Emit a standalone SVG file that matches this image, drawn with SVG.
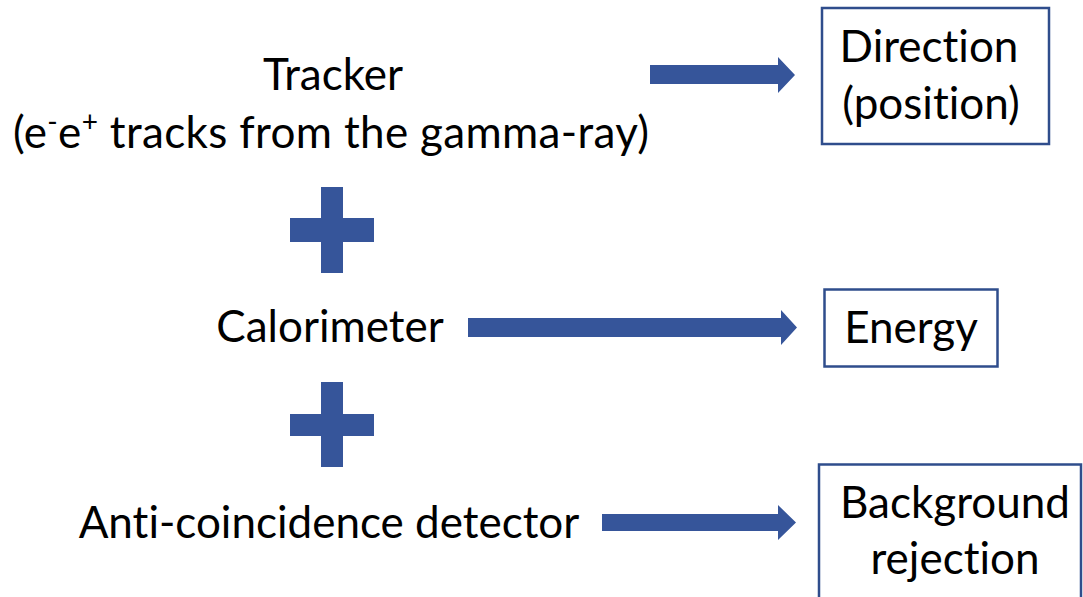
<svg xmlns="http://www.w3.org/2000/svg" width="1083" height="597" viewBox="0 0 1083 597">
  <style>
    .lbl { font-family: Lato, "Open Sans", "Liberation Sans", sans-serif; font-size: 44px; fill: #000; text-anchor: middle; font-variant-ligatures: none; }
    .box { fill: #fff; stroke: #2F4D8C; stroke-width: 2.5; }
    .blue { fill: #36559A; }
  </style>
  <rect width="1083" height="597" fill="#fff"/>

  <!-- detector subsystems -->
  <g id="tracker">
    <text class="lbl" x="333" y="90">Tracker</text>
    <text class="lbl" x="331" y="148" textLength="636" lengthAdjust="spacing">(e<tspan font-size="28" dy="-16">-</tspan><tspan dy="16">e</tspan><tspan font-size="28" dy="-16">+</tspan><tspan dy="16"> tracks from the gamma-ray)</tspan></text>
  </g>
  <g id="calorimeter">
    <text class="lbl" x="330" y="342">Calorimeter</text>
  </g>
  <g id="acd">
    <text class="lbl" x="329" y="538">Anti-coincidence detector</text>
  </g>

  <!-- plus signs between the subsystems -->
  <g id="plus-1" class="blue">
    <rect x="321" y="187" width="22" height="86"/>
    <rect x="290" y="218" width="84" height="24"/>
  </g>
  <g id="plus-2" class="blue">
    <rect x="321" y="382" width="22" height="85"/>
    <rect x="290" y="414" width="84" height="22"/>
  </g>

  <!-- measured quantities -->
  <g id="direction">
    <rect class="box" x="822" y="8" width="227" height="136"/>
    <text class="lbl" x="929" y="62">Direction</text>
    <text class="lbl" x="931" y="119">(position)</text>
  </g>
  <g id="energy">
    <rect class="box" x="824.5" y="289.5" width="173" height="77"/>
    <text class="lbl" x="911" y="343">Energy</text>
  </g>
  <g id="background">
    <rect class="box" x="819" y="464.5" width="262" height="160"/>
    <text class="lbl" x="955" y="518">Background</text>
    <text class="lbl" x="955" y="574">rejection</text>
  </g>

  <!-- block arrows -->
  <g id="connectors" class="blue">
    <path d="M650,65 H778 V57 L795,75 L778,93 V84 H650 Z"/>
    <path d="M468,318 H781 V310 L797,327.5 L781,345 V337 H468 Z"/>
    <path d="M602,514 H778 V505 L796,522.5 L778,540 V531 H602 Z"/>
  </g>
</svg>
